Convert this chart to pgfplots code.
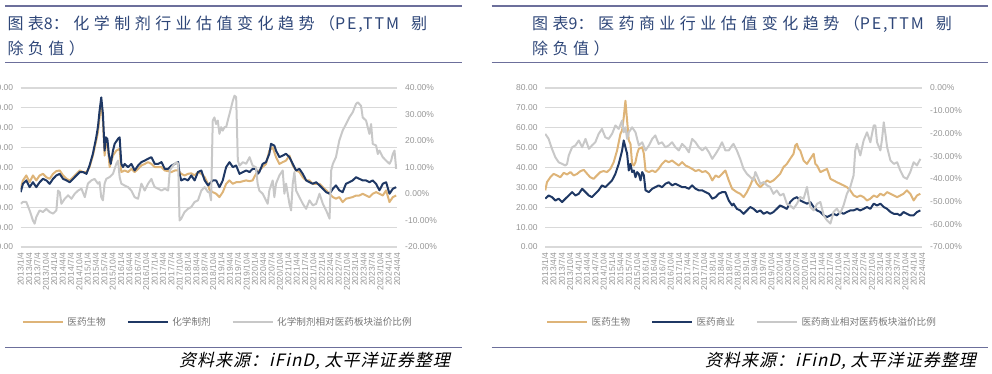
\documentclass[border=0pt]{standalone}
\usepackage{fontspec}
\usepackage{pgfplots}
\usepackage{pgfplotstable}
\pgfplotsset{compat=1.18}
\setmainfont{Liberation Sans}
\newfontfamily\cjk{Noto Sans CJK SC}
\newfontfamily\cjktitle[LetterSpace=28]{Noto Sans CJK SC}
\newfontfamily\tlat[LetterSpace=12]{Noto Sans CJK SC}
\newfontfamily\cjksrc[FakeSlant=0.22,LetterSpace=6]{Noto Sans CJK SC}
\definecolor{cOr}{RGB}{222,180,120}
\definecolor{cBl}{RGB}{31,56,100}
\definecolor{cGr}{RGB}{200,200,200}
\definecolor{cGrid}{RGB}{217,217,217}
\definecolor{cTick}{RGB}{150,150,150}
\definecolor{cLeg}{RGB}{118,118,118}
\definecolor{cTitle}{RGB}{46,70,120}
\definecolor{cRule}{RGB}{108,111,155}
\newcommand\tickfont{\fontsize{8.5}{9}\selectfont}
\pgfkeys{/pgf/number format/assume math mode=true}

% ---------- left chart: 化学制剂 ----------
\pgfplotstableread{
m v
0.0 29.3
0.8 33.5
2.0 36.0
3.2 32.6
4.4 36.0
5.6 33.5
6.8 36.0
8.0 36.8
9.2 35.1
10.4 34.3
11.6 36.8
12.8 38.2
14.0 38.5
15.2 36.0
16.4 34.3
17.6 33.5
18.8 35.1
20.0 36.8
21.2 38.5
22.4 37.7
23.6 37.7
24.7 40.2
25.9 46.0
27.1 53.6
27.7 57.7
28.3 65.3
28.9 72.8
29.5 63.6
30.1 46.0
30.7 52.7
31.3 50.2
31.9 40.2
33.1 46.0
34.3 48.5
35.5 49.4
36.1 37.7
37.3 38.5
38.5 37.7
39.7 39.3
40.9 37.7
42.1 39.3
43.3 41.0
44.5 41.8
45.7 42.7
46.9 41.8
48.1 40.2
49.3 40.2
50.5 40.2
51.7 38.5
52.9 38.2
54.1 37.7
55.3 38.5
56.5 38.5
57.6 36.8
58.8 36.0
60.0 36.8
61.2 37.1
62.4 36.0
63.6 37.7
64.8 36.8
66.0 35.1
67.2 31.8
67.7 28.8
68.9 27.6
70.1 26.8
71.3 25.1
72.5 27.6
73.7 31.8
74.9 33.5
76.1 31.8
77.3 32.6
78.5 32.6
79.7 33.1
80.9 33.5
82.1 33.1
83.2 33.5
84.4 36.8
85.6 38.5
86.8 40.2
88.0 41.8
89.2 48.5
90.4 50.2
91.6 45.2
92.8 41.8
94.0 42.7
95.2 43.5
96.4 46.0
97.6 41.0
98.8 38.5
100.0 37.7
101.2 35.1
102.4 33.5
103.6 33.5
104.8 31.8
107.2 31.8
108.4 30.1
109.6 28.5
110.8 26.8
112.0 25.1
113.1 24.3
114.3 25.1
115.5 22.6
116.7 24.3
119.1 25.1
120.3 25.9
121.5 25.9
122.7 26.8
123.9 25.9
125.1 25.1
126.3 26.8
127.5 27.6
128.7 26.8
129.9 25.9
131.1 28.5
132.3 22.6
133.5 25.1
134.7 25.9
}\LOr

\pgfplotstableread{
m v
0.0 27.6
0.8 31.8
2.0 33.5
3.2 30.1
4.4 32.6
5.6 30.1
6.8 32.6
8.0 34.3
9.2 33.5
10.4 31.8
11.6 34.3
12.8 36.0
14.0 36.8
15.2 34.3
16.4 33.5
17.6 32.6
18.8 34.3
20.0 36.0
21.2 37.7
22.4 37.7
23.6 36.8
24.7 41.0
25.9 46.9
27.1 55.2
27.7 60.3
28.3 68.6
28.9 75.3
29.5 66.9
30.1 48.5
30.5 55.2
31.1 54.4
31.6 46.9
32.3 41.8
33.1 48.5
33.7 51.9
34.9 54.4
35.5 55.2
36.1 41.8
36.7 40.2
37.3 41.8
38.5 40.2
39.7 41.8
40.9 38.5
42.1 41.0
43.3 42.7
44.5 43.5
45.7 44.4
46.9 45.2
48.1 41.8
49.3 41.8
50.5 42.7
51.7 39.3
52.9 39.3
54.1 41.0
55.3 41.8
56.5 42.7
57.0 36.8
57.6 33.5
58.8 34.3
60.0 33.5
61.2 36.0
62.4 33.5
63.6 37.7
64.8 38.5
66.0 33.5
67.2 31.0
68.9 33.5
70.1 33.5
71.3 30.1
72.5 33.5
73.7 40.2
74.9 42.7
76.1 40.2
77.3 41.0
78.5 36.8
79.7 37.7
80.9 38.5
82.1 37.7
83.2 39.3
84.4 39.3
85.0 36.8
85.6 37.7
86.8 41.8
88.0 42.7
89.2 46.9
89.8 51.9
91.0 51.0
91.6 48.5
92.8 45.2
94.0 46.0
95.2 46.9
96.4 45.2
97.6 41.8
98.8 38.5
100.0 39.3
101.2 36.8
102.4 33.5
103.6 32.6
104.8 31.8
106.0 32.6
107.2 31.0
108.4 29.3
109.6 27.6
110.8 26.8
112.0 29.3
113.1 31.0
114.3 28.5
115.5 27.6
116.7 31.8
117.9 32.6
119.1 33.5
120.3 35.1
121.5 34.3
122.7 33.5
123.9 33.5
125.1 32.6
126.3 33.5
127.5 31.8
128.7 28.5
129.9 31.8
131.1 32.6
132.3 26.8
133.5 29.3
134.7 30.1
}\LBl

\pgfplotstableread{
m p
0.0 -3.7
0.8 -3.0
2.0 -3.0
3.2 -6.2
4.4 -10.0
5.0 -11.2
5.6 -8.7
6.8 -6.2
8.0 -6.8
9.2 -5.6
10.4 -6.8
11.6 -7.4
12.8 -6.2
13.4 1.3
14.0 0.7
14.6 -3.7
15.8 -1.8
17.0 -0.5
18.2 -1.8
19.4 0.1
20.6 1.3
21.8 2.0
23.0 -1.2
24.1 3.9
25.3 5.1
26.5 5.7
27.7 3.9
28.3 4.5
28.9 -1.2
29.5 -2.4
30.1 3.9
30.7 5.7
31.9 6.4
33.1 7.6
34.3 11.4
34.9 12.6
35.5 6.4
36.1 3.9
37.3 3.2
38.5 2.6
39.7 1.3
40.9 -1.2
42.1 -1.8
43.3 3.9
44.5 1.3
45.7 3.9
46.9 5.7
47.5 3.9
48.1 2.6
49.3 2.0
50.5 1.3
51.7 2.0
52.9 1.3
53.5 8.9
54.7 10.8
55.9 12.0
56.5 11.4
57.0 -10.0
57.6 -9.3
58.8 -6.8
60.0 -5.6
61.2 -4.9
62.4 -3.0
63.6 -2.4
64.8 1.3
66.0 2.6
67.2 0.7
67.7 0.7
68.3 -2.4
68.9 27.7
69.5 28.9
70.1 26.4
70.7 27.7
71.3 22.7
71.9 25.2
72.5 23.9
73.1 25.2
73.7 25.2
74.3 27.7
74.9 30.2
75.5 32.7
76.1 35.2
76.7 37.1
77.3 36.5
77.9 12.6
78.5 10.7
79.7 12.0
80.9 11.4
82.1 13.9
83.2 10.7
84.4 10.1
85.0 3.9
85.6 1.3
86.8 0.1
88.0 -2.4
88.6 -3.7
89.2 1.3
90.4 5.1
91.0 -1.2
91.6 3.9
92.8 7.0
94.0 8.9
94.6 0.1
95.2 3.9
96.4 -3.7
97.0 -6.2
97.6 3.9
98.2 8.3
98.8 1.3
100.0 -1.2
101.2 -3.7
102.4 -5.6
103.6 -2.4
104.8 -4.3
106.0 -3.7
107.2 0.1
108.4 -3.7
109.6 -6.2
110.8 -9.3
111.4 8.9
112.0 11.4
113.1 13.9
114.3 20.2
115.5 23.9
116.7 26.4
117.9 28.9
119.1 30.8
120.3 34.0
120.9 34.6
122.1 33.3
122.7 28.9
123.9 27.7
125.1 22.7
125.7 26.4
126.3 18.9
127.5 18.3
128.1 15.1
128.7 16.4
129.9 13.9
131.1 12.6
132.3 11.4
132.9 12.6
133.5 15.1
134.1 16.4
134.7 9.5
}\LGr

% ---------- right chart: 医药商业 ----------
\pgfplotstableread{
m v
0.1 28.5
0.7 32.6
1.9 35.1
3.1 36.8
4.3 36.0
5.5 35.1
6.7 37.3
7.9 36.5
9.1 37.7
10.3 36.0
11.5 36.8
12.7 38.2
13.9 38.8
15.1 36.8
16.2 35.1
17.4 34.3
18.6 36.0
19.8 37.7
21.0 38.2
22.2 37.7
23.4 39.3
24.6 42.7
25.8 48.5
27.0 56.9
27.6 58.6
28.2 65.3
28.8 73.6
29.4 63.6
30.0 53.6
30.6 51.9
31.2 41.8
31.8 41.0
32.4 42.7
33.0 46.9
33.6 49.4
34.8 50.2
35.4 46.9
36.0 38.5
37.2 37.7
38.4 38.5
39.5 37.7
40.7 39.3
41.9 41.8
43.1 43.5
44.3 42.7
45.5 43.5
46.7 42.2
47.9 41.0
49.1 42.7
50.3 41.0
51.5 40.2
52.7 39.3
53.9 38.2
55.1 38.8
56.3 37.7
57.5 38.2
58.7 36.8
59.9 33.5
61.1 36.0
62.2 35.1
63.4 36.8
64.6 38.5
65.8 33.5
67.0 29.3
68.7 27.6
69.9 26.8
71.1 25.1
72.3 27.6
73.5 31.0
74.7 35.1
75.9 31.8
77.1 30.1
78.3 31.8
79.5 33.5
80.6 32.6
81.8 33.5
83.0 35.1
84.2 36.8
85.4 40.2
86.6 41.8
87.8 44.4
89.0 46.9
89.6 51.0
90.2 51.9
90.8 49.4
91.4 48.5
92.6 43.5
93.8 41.8
95.0 44.4
96.2 46.9
96.8 41.8
97.4 41.0
98.6 37.7
99.8 38.5
101.0 39.3
102.2 34.3
103.3 33.5
104.5 32.6
105.7 31.8
106.9 31.0
108.1 30.1
109.3 28.5
110.5 26.0
111.7 25.1
112.9 25.9
114.1 25.1
115.3 23.4
116.5 24.3
117.7 25.9
118.9 25.1
120.1 26.8
121.3 25.9
122.5 27.6
123.7 26.8
124.9 25.9
126.1 25.1
127.2 25.9
128.4 26.8
129.6 28.5
130.8 26.8
132.0 23.4
133.2 25.9
134.4 26.8
}\ROr

\pgfplotstableread{
m v
0.1 24.3
1.3 25.9
2.5 25.1
3.7 23.4
4.9 24.3
6.1 22.6
7.3 24.3
8.5 25.9
9.7 27.6
10.9 25.9
12.1 26.8
13.3 29.3
14.5 27.6
15.7 25.9
16.8 25.1
18.0 26.8
19.2 28.5
20.4 31.0
21.6 30.1
22.8 31.8
24.0 33.5
25.2 36.8
26.4 41.8
27.6 48.5
28.2 53.6
28.8 50.2
29.4 46.9
30.0 38.5
30.6 41.8
31.2 37.7
31.8 38.5
32.4 35.1
33.0 37.7
33.6 36.8
34.2 33.5
34.8 37.7
35.4 36.0
36.0 28.5
37.2 27.6
38.4 29.3
39.5 30.1
40.7 31.0
41.9 30.1
43.1 31.8
44.3 32.6
45.5 31.0
46.7 31.8
47.9 31.0
49.1 30.1
50.3 30.1
51.5 29.3
52.7 31.0
53.9 29.3
55.1 28.5
56.3 28.5
57.5 27.6
58.7 26.8
59.9 24.3
61.1 25.1
62.2 26.8
63.4 27.6
64.6 27.6
65.8 23.4
67.0 20.9
67.5 21.8
68.7 19.2
69.9 18.4
71.1 16.7
72.3 18.4
73.5 20.1
74.7 19.2
75.9 17.6
77.1 18.4
78.3 16.7
79.5 17.6
80.6 16.7
81.8 17.6
83.0 19.2
84.2 20.9
85.4 20.1
86.6 19.2
87.8 22.6
89.0 24.3
90.2 25.1
91.4 23.4
92.6 22.6
93.8 21.8
95.0 22.6
96.2 20.1
97.4 18.4
98.6 17.6
99.8 15.9
101.0 15.1
102.2 15.9
103.3 16.7
104.5 15.9
105.7 17.6
106.9 16.7
108.1 17.6
109.3 18.4
110.5 18.4
111.7 19.2
112.9 18.4
114.1 19.2
115.3 20.1
116.5 19.2
117.7 21.8
118.9 20.9
120.1 21.8
121.3 20.1
122.5 19.2
123.7 17.6
124.9 16.7
126.1 16.7
127.2 15.9
128.4 17.6
129.6 16.7
130.8 15.9
132.0 15.9
133.2 17.6
134.4 18.4
}\RBl

\pgfplotstableread{
m p
0.1 -20.2
1.3 -22.4
2.5 -26.8
3.7 -30.5
4.9 -32.7
6.1 -33.4
7.3 -34.1
7.9 -33.4
8.5 -29.7
9.7 -26.1
10.9 -25.3
12.1 -23.1
13.3 -26.1
14.5 -22.4
15.7 -26.8
16.8 -25.3
18.0 -23.9
19.2 -20.2
20.4 -18.0
21.6 -21.7
22.8 -22.4
24.0 -20.2
25.2 -16.5
26.4 -18.0
27.6 -14.3
28.2 -19.5
28.8 -17.3
29.4 -22.4
30.0 -19.5
31.2 -17.3
32.4 -19.5
33.6 -25.3
34.8 -23.9
36.0 -27.5
37.2 -25.3
38.4 -22.4
39.5 -20.9
40.7 -24.6
41.9 -23.9
43.1 -26.1
44.3 -25.3
45.5 -23.9
46.7 -26.1
47.9 -27.5
49.1 -24.6
50.3 -26.1
51.5 -28.3
52.7 -22.4
53.9 -23.9
55.1 -26.1
56.3 -27.5
57.5 -26.1
58.7 -28.3
59.9 -31.2
61.1 -29.0
62.2 -26.8
63.4 -23.9
64.6 -27.5
65.8 -27.5
67.0 -25.3
67.5 -24.6
68.7 -27.5
69.9 -31.2
71.1 -35.6
72.3 -37.8
73.5 -39.2
74.7 -40.7
75.3 -37.0
75.9 -38.5
77.1 -42.2
78.3 -41.4
79.5 -42.9
80.6 -43.6
81.8 -46.6
83.0 -45.1
84.2 -47.3
85.4 -46.6
86.6 -51.0
87.8 -51.7
89.0 -53.1
90.2 -51.0
91.4 -48.0
92.6 -48.8
93.8 -43.6
94.4 -48.0
95.0 -52.4
96.2 -53.9
97.4 -51.0
98.6 -50.2
99.8 -56.1
101.0 -58.3
102.2 -59.7
102.7 -57.5
103.3 -54.6
104.5 -53.1
105.7 -55.3
106.9 -51.7
108.1 -46.6
109.3 -43.6
110.5 -38.5
111.1 -27.5
111.7 -24.6
112.9 -29.7
114.1 -23.1
115.3 -19.5
116.5 -23.9
117.7 -16.5
118.3 -16.5
118.9 -23.9
120.1 -27.5
120.7 -22.4
121.3 -15.1
121.9 -20.2
122.5 -26.1
123.7 -31.9
124.9 -33.4
126.1 -32.7
127.2 -36.3
128.4 -39.2
129.6 -40.0
130.8 -37.0
132.0 -32.7
133.2 -34.1
134.4 -31.2
}\RGr

\pgfplotsset{
  panel/.style={scale only axis, height=159pt, xmin=0, xmax=135,
    axis line style={draw=none}, major tick style={draw=none}, major tick length=0pt,
    scaled y ticks=false},
  lefty/.style={ymin=0, ymax=80, ytick={0,10,...,80}, ymajorgrids,
    grid style={draw=cGrid, line width=1.2pt},
    xtick={0,3,...,135},
    xticklabels={2013/1/4,2013/4/4,2013/7/4,2013/10/4,2014/1/4,2014/4/4,2014/7/4,2014/10/4,2015/1/4,2015/4/4,2015/7/4,2015/10/4,2016/1/4,2016/4/4,2016/7/4,2016/10/4,2017/1/4,2017/4/4,2017/7/4,2017/10/4,2018/1/4,2018/4/4,2018/7/4,2018/10/4,2019/1/4,2019/4/4,2019/7/4,2019/10/4,2020/1/4,2020/4/4,2020/7/4,2020/10/4,2021/1/4,2021/4/4,2021/7/4,2021/10/4,2022/1/4,2022/4/4,2022/7/4,2022/10/4,2023/1/4,2023/4/4,2023/7/4,2023/10/4,2024/1/4,2024/4/4},
    xticklabel style={rotate=90, anchor=east, inner xsep=5.5pt, inner ysep=0pt, font=\tickfont, text=cTick},
    yticklabel style={anchor=east, inner xsep=7.3pt, inner ysep=0pt, font=\tickfont, text=cTick,
      /pgf/number format/fixed, /pgf/number format/fixed zerofill, /pgf/number format/precision=2}},
  righty/.style={axis x line=none, axis y line*=right,
    yticklabel style={anchor=west, inner xsep=8pt, inner ysep=0pt, font=\tickfont, text=cTick},
    yticklabel={\pgfmathprintnumber[fixed,fixed zerofill,precision=2]{\tick}\%},
    legend image code/.code={\draw[#1] (0pt,0pt) -- (40pt,0pt);},
    legend style={at={(axis description cs:0.0027,-0.47)}, anchor=west, draw=none, fill=none,
      inner sep=0pt, legend columns=3, font=\cjk\fontsize{9.6}{11}\selectfont, text=cLeg,
      nodes={inner sep=0pt},
      /tikz/every odd column/.append style={column sep=3.5pt},
      /tikz/every even column/.append style={column sep=21pt}},
    legend cell align=left},
  ser/.style={line width=2pt, line join=round, no markers},
}

\newcommand\titleA{{\cjktitle 图表}{\tlat 8}{\cjktitle ：化学制剂行业估值变化趋势（}{\tlat PE,TTM}\hspace{12pt}{\cjktitle 剔}}
\newcommand\titleB{{\cjktitle 图表}{\tlat 9}{\cjktitle ：医药商业行业估值变化趋势（}{\tlat PE,TTM}\hspace{12pt}{\cjktitle 剔}}

\begin{document}
\begin{tikzpicture}
% ---------------- rules and titles ----------------
\draw[cRule, line width=2.4pt] (5pt,368pt) -- (461.7pt,368pt);
\draw[cRule, line width=2.4pt] (491.7pt,368pt) -- (987.7pt,368pt);
\draw[cRule, line width=1.2pt] (5pt,311.7pt) -- (461.7pt,311.7pt);
\draw[cRule, line width=1.2pt] (491.7pt,311.7pt) -- (987.7pt,311.7pt);
\draw[cRule, line width=1.3pt] (5pt,26.3pt) -- (461.7pt,26.3pt);
\draw[cRule, line width=1.3pt] (491.7pt,26.3pt) -- (987.7pt,26.3pt);
\node[anchor=base west, inner sep=0pt, text=cTitle, font=\fontsize{16}{16}\selectfont] at (7.3pt,344.5pt) {\titleA};
\node[anchor=base west, inner sep=0pt, text=cTitle, font=\cjktitle\fontsize{16}{16}\selectfont] at (7.3pt,319pt) {除负值）};
\node[anchor=base west, inner sep=0pt, text=cTitle, font=\fontsize{16}{16}\selectfont] at (532pt,344.5pt) {\titleB};
\node[anchor=base west, inner sep=0pt, text=cTitle, font=\cjktitle\fontsize{16}{16}\selectfont] at (532pt,319pt) {除负值）};
\node[anchor=base east, inner sep=0pt, text=black, font=\cjksrc\fontsize{17}{17}\selectfont] at (450pt,7pt) {资料来源：iFinD, 太平洋证券整理};
\node[anchor=base east, inner sep=0pt, text=black, font=\cjksrc\fontsize{17}{17}\selectfont] at (976pt,7pt) {资料来源：iFinD, 太平洋证券整理};

% ---------------- left chart ----------------
\begin{axis}[panel, lefty, at={(20.7pt,127pt)}, anchor=south west, width=376.3pt]
\addplot[ser, cOr] table[x=m,y=v] {\LOr};
\addplot[ser, cBl] table[x=m,y=v] {\LBl};
\end{axis}
\begin{axis}[panel, righty, at={(20.7pt,127pt)}, anchor=south west, width=376.3pt,
  ymin=-20, ymax=40, ytick={-20,-10,...,40}]
\addlegendimage{ser, cOr}\addlegendentry{医药生物}
\addlegendimage{ser, cBl}\addlegendentry{化学制剂}
\addplot[ser, cGr] table[x=m,y=p] {\LGr};
\addlegendentry{化学制剂相对医药板块溢价比例}
\end{axis}

% ---------------- right chart ----------------
\begin{axis}[panel, lefty, at={(545pt,127pt)}, anchor=south west, width=377pt]
\addplot[ser, cOr] table[x=m,y=v] {\ROr};
\addplot[ser, cBl] table[x=m,y=v] {\RBl};
\end{axis}
\begin{axis}[panel, righty, at={(545pt,127pt)}, anchor=south west, width=377pt,
  ymin=-70, ymax=0, ytick={-70,-60,...,0}]
\addlegendimage{ser, cOr}\addlegendentry{医药生物}
\addlegendimage{ser, cBl}\addlegendentry{医药商业}
\addplot[ser, cGr] table[x=m,y=p] {\RGr};
\addlegendentry{医药商业相对医药板块溢价比例}
\end{axis}

\pgfresetboundingbox
\path[use as bounding box] (0pt,0pt) rectangle (992pt,374pt);
\end{tikzpicture}
\end{document}
